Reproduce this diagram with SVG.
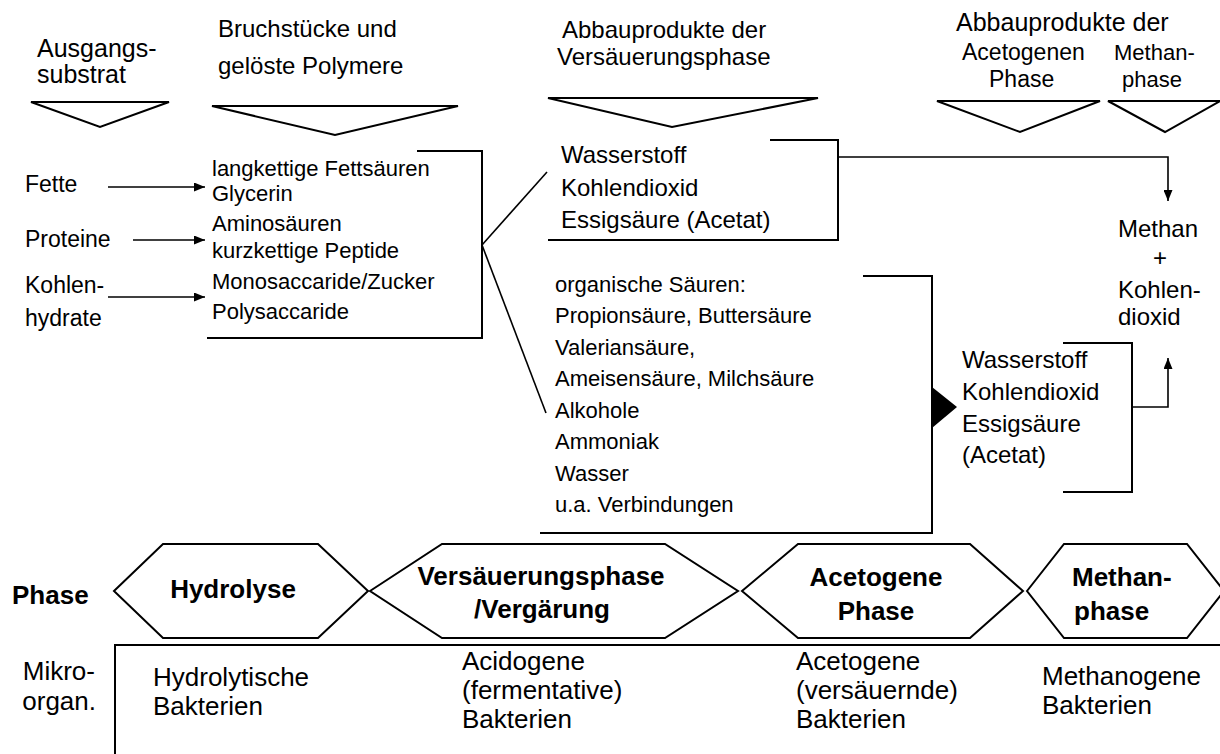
<svg xmlns="http://www.w3.org/2000/svg" width="1220" height="754" viewBox="0 0 1220 754">
<defs>
<marker id="ah" viewBox="0 0 11 9" refX="11" refY="4.5" markerWidth="11" markerHeight="9" markerUnits="userSpaceOnUse" orient="auto"><path d="M0,0 L11,4.5 L0,9 z" fill="#000"/></marker>
</defs>
<style>
text{font-family:"Liberation Sans",Arial,sans-serif;fill:#000}
.h{font-size:24px}
.m{font-size:22px}
.l{font-size:23px}
.s{font-size:22px}
.w{font-size:24px}
.bb{font-size:26px;font-weight:bold}
.bt{font-size:26px}
.ln{fill:none;stroke:#000;stroke-width:2}
.tri{fill:#fff;stroke:#000;stroke-width:2;stroke-linejoin:miter}
.ar{fill:none;stroke:#000;stroke-width:1.6}
</style>
<rect width="1220" height="754" fill="#fff"/>

<g id="hdr-substrat">
<text class="h" x="37" y="57" style="font-size:25px">Ausgangs-</text>
<text class="h" x="37" y="83" style="font-size:25px">substrat</text>
<polygon class="tri" points="31,102 169,102 100,127"/>
</g>
<g id="hdr-polymere">
<text class="h" x="218" y="37">Bruchstücke und</text>
<text class="h" x="218" y="74">gelöste Polymere</text>
<polygon class="tri" points="212,106 458,106 335,135"/>
</g>
<g id="hdr-versaeuerung">
<text class="w" x="562" y="38">Abbauprodukte der</text>
<text class="w" x="557" y="65">Versäuerungsphase</text>
<polygon class="tri" points="548,98 818,98 672,127"/>
</g>
<g id="hdr-acetogen">
<text class="w" x="956" y="31" style="font-size:25px">Abbauprodukte der</text>
<text class="m" x="962" y="60" style="font-size:23px">Acetogenen</text>
<text class="m" x="989" y="87" style="font-size:23px">Phase</text>
<polygon class="tri" points="937,101 1100,101 1020,132"/>
</g>
<g id="hdr-methan">
<text class="m" x="1114" y="60">Methan-</text>
<text class="m" x="1122" y="87">phase</text>
<polygon class="tri" points="1108,101 1220,101 1165,132"/>
</g>

<g id="n-fette"><text class="l" x="25" y="192">Fette</text></g>
<g id="n-proteine"><text class="l" x="25" y="247">Proteine</text></g>
<g id="n-kohlenhydrate"><text class="l" x="25" y="293">Kohlen-</text><text class="l" x="25" y="326">hydrate</text></g>

<g id="n-hydrolyseprodukte">
<text class="m" x="212" y="176">langkettige Fettsäuren</text>
<text class="m" x="212" y="201">Glycerin</text>
<text class="m" x="212" y="231">Aminosäuren</text>
<text class="m" x="212" y="258">kurzkettige Peptide</text>
<text class="m" x="212" y="289">Monosaccaride/Zucker</text>
<text class="m" x="212" y="319">Polysaccaride</text>
<polyline class="ln" points="417,151 482,151 482,338 207,338"/>
</g>

<g id="n-gase1">
<text class="w" x="561" y="163">Wasserstoff</text>
<text class="w" x="561" y="196">Kohlendioxid</text>
<text class="w" x="561" y="228">Essigsäure (Acetat)</text>
<polyline class="ln" points="770,140 838,140 838,240 548,240"/>
</g>

<g id="n-saeuren">
<text class="s" x="555" y="292">organische Säuren:</text>
<text class="s" x="555" y="323">Propionsäure, Buttersäure</text>
<text class="s" x="555" y="355">Valeriansäure,</text>
<text class="s" x="555" y="386">Ameisensäure, Milchsäure</text>
<text class="s" x="555" y="418">Alkohole</text>
<text class="s" x="555" y="449">Ammoniak</text>
<text class="s" x="555" y="481">Wasser</text>
<text class="s" x="555" y="512">u.a. Verbindungen</text>
<polyline class="ln" points="863,276 932,276 932,533 540,533"/>
</g>

<g id="n-gase2">
<text class="w" x="962" y="368">Wasserstoff</text>
<text class="w" x="962" y="400">Kohlendioxid</text>
<text class="w" x="962" y="432">Essigsäure</text>
<text class="w" x="962" y="463">(Acetat)</text>
<polyline class="ln" points="1063,343 1132,343 1132,492 1063,492"/>
</g>

<g id="n-methan">
<text class="w" x="1118" y="237">Methan</text>
<text class="w" x="1160" y="266" text-anchor="middle">+</text>
<text class="w" x="1118" y="298">Kohlen-</text>
<text class="w" x="1118" y="325">dioxid</text>
</g>

<g id="connectors">
<line class="ar" x1="108" y1="187" x2="205" y2="187" marker-end="url(#ah)"/>
<line class="ar" x1="133" y1="240" x2="205" y2="240" marker-end="url(#ah)"/>
<line class="ar" x1="108" y1="297" x2="205" y2="297" marker-end="url(#ah)"/>
<line class="ar" x1="482" y1="245" x2="547" y2="172"/>
<line class="ar" x1="482" y1="245" x2="546" y2="413"/>
<polyline class="ar" points="838,157 1168,157 1168,201" marker-end="url(#ah)"/>
<polyline class="ar" points="1132,407 1168,407 1168,358" marker-end="url(#ah)"/>
<polygon points="932,387 957,407 932,428" fill="#000"/>
</g>

<g id="row-phase">
<text class="bb" x="12" y="604">Phase</text>
<g id="ph-hydrolyse">
<polygon class="tri" points="114,591 163,544 318,544 368,591 318,638 163,638"/>
<text class="bb" x="233" y="598" text-anchor="middle">Hydrolyse</text>
</g>
<g id="ph-versaeuerung">
<polygon class="tri" points="370,591 442,544 665,544 738,591 665,638 442,638"/>
<text class="bb" x="541" y="585" text-anchor="middle">Versäuerungsphase</text>
<text class="bb" x="542" y="618" text-anchor="middle">/Vergärung</text>
</g>
<g id="ph-acetogen">
<polygon class="tri" points="742,591 798,544 970,544 1023,591 970,638 798,638"/>
<text class="bb" x="876" y="586" text-anchor="middle">Acetogene</text>
<text class="bb" x="876" y="620" text-anchor="middle">Phase</text>
</g>
<g id="ph-methan">
<polygon class="tri" points="1027,591 1064,544 1187,544 1224,591 1187,638 1064,638"/>
<text class="bb" x="1072" y="586">Methan-</text>
<text class="bb" x="1074" y="620">phase</text>
</g>
</g>

<g id="row-mikro">
<text class="bt" x="95" y="680" text-anchor="end">Mikro-</text>
<text class="bt" x="96" y="710" text-anchor="end">organ.</text>
<polyline class="ln" points="115,756 115,645 1222,645"/>
<g id="mo-hydrolyse"><text class="bt" x="153" y="686">Hydrolytische</text><text class="bt" x="153" y="715">Bakterien</text></g>
<g id="mo-acido"><text class="bt" x="462" y="670">Acidogene</text><text class="bt" x="462" y="699">(fermentative)</text><text class="bt" x="462" y="728">Bakterien</text></g>
<g id="mo-aceto"><text class="bt" x="796" y="670">Acetogene</text><text class="bt" x="796" y="699">(versäuernde)</text><text class="bt" x="796" y="728">Bakterien</text></g>
<g id="mo-methano"><text class="bt" x="1042" y="685">Methanogene</text><text class="bt" x="1042" y="714">Bakterien</text></g>
</g>
</svg>
